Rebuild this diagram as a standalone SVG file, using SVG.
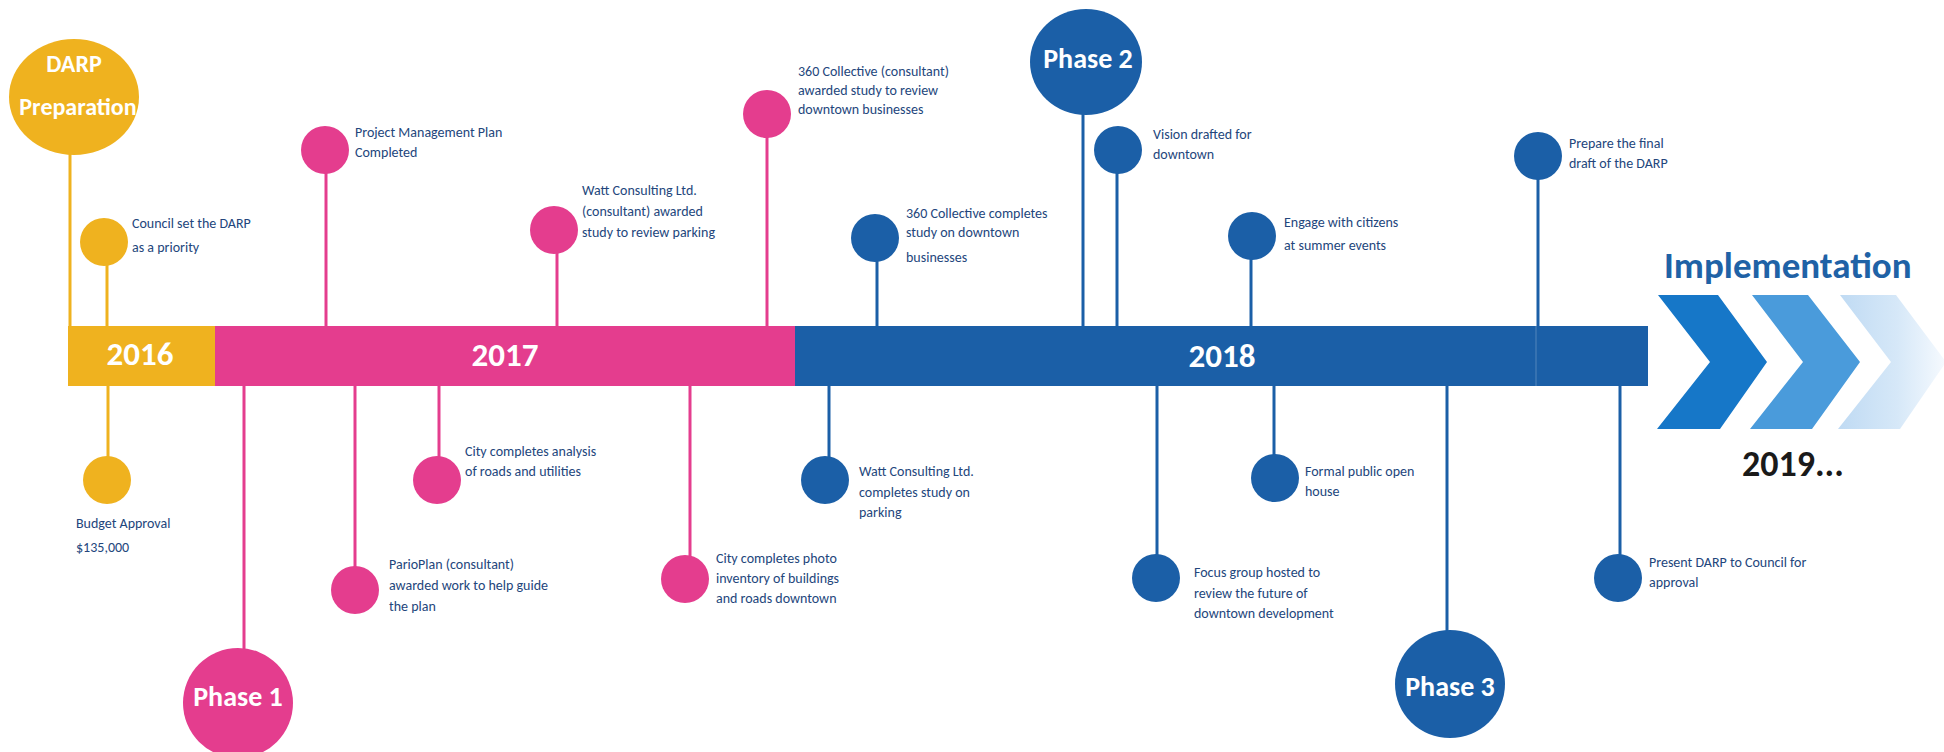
<svg xmlns="http://www.w3.org/2000/svg" width="1944" height="752" viewBox="0 0 1944 752">
  <defs>
    <style>
      .gold { fill: #EFB21F; }
      .pink { fill: #E43D8E; }
      .blue { fill: #1B5FA7; }
      .stem { fill: none; stroke-width: 3; }
      .s-gold { stroke: #EFB21F; }
      .s-pink { stroke: #E43D8E; }
      .s-blue { stroke: #1B5FA7; }
      .label { font-family: Carlito, Lato, "Noto Sans", sans-serif; font-size: 14px; fill: #23467C; }
      .year { font-family: Carlito, Lato, "Noto Sans", sans-serif; font-size: 33px; font-weight: bold; fill: #FFFFFF; text-anchor: middle; }
      .phase { font-family: Carlito, Lato, "Noto Sans", sans-serif; font-size: 28px; font-weight: bold; fill: #FFFFFF; text-anchor: middle; }
      .head { font-family: Carlito, Lato, "Noto Sans", sans-serif; font-weight: bold; }
    </style>
    <linearGradient id="fadeChevron" x1="0" y1="0" x2="1" y2="0">
      <stop offset="0" stop-color="#BFDAF3"/>
      <stop offset="0.55" stop-color="#D6E8F8"/>
      <stop offset="1" stop-color="#F6FAFE"/>
    </linearGradient>
  </defs>

  <rect width="1944" height="752" fill="#FFFFFF"/>

  <!-- stems joining each milestone to the year bar -->
  <g id="connectors">
    <line class="stem s-gold" x1="70" y1="150" x2="70" y2="327"/>
    <line class="stem s-gold" x1="107" y1="262" x2="107" y2="327"/>
    <line class="stem s-gold" x1="108" y1="385" x2="108" y2="458"/>
    <line class="stem s-pink" x1="244" y1="385" x2="244" y2="650"/>
    <line class="stem s-pink" x1="326" y1="170" x2="326" y2="327"/>
    <line class="stem s-pink" x1="355" y1="385" x2="355" y2="569"/>
    <line class="stem s-pink" x1="439" y1="385" x2="439" y2="459"/>
    <line class="stem s-pink" x1="557" y1="250" x2="557" y2="327"/>
    <line class="stem s-pink" x1="690" y1="385" x2="690" y2="558"/>
    <line class="stem s-pink" x1="767" y1="134" x2="767" y2="327"/>
    <line class="stem s-blue" x1="877" y1="258" x2="877" y2="327"/>
    <line class="stem s-blue" x1="829" y1="385" x2="829" y2="459"/>
    <line class="stem s-blue" x1="1083" y1="110" x2="1083" y2="327"/>
    <line class="stem s-blue" x1="1117" y1="170" x2="1117" y2="327"/>
    <line class="stem s-blue" x1="1157" y1="385" x2="1157" y2="557"/>
    <line class="stem s-blue" x1="1251" y1="256" x2="1251" y2="327"/>
    <line class="stem s-blue" x1="1274" y1="385" x2="1274" y2="457"/>
    <line class="stem s-blue" x1="1447" y1="385" x2="1447" y2="633"/>
    <line class="stem s-blue" x1="1538" y1="176" x2="1538" y2="327"/>
    <line class="stem s-blue" x1="1620" y1="385" x2="1620" y2="557"/>
  </g>

  <!-- year bar -->
  <g id="timeline">
    <rect class="gold" x="68" y="326" width="148" height="60"/>
    <rect class="pink" x="215" y="326" width="581" height="60"/>
    <rect class="blue" x="795" y="326" width="853" height="60"/>
    <line x1="1536" y1="326" x2="1536" y2="386" stroke="#FFFFFF" stroke-opacity="0.12" stroke-width="2"/>
    <text class="year" x="140" y="365">2016</text>
    <text class="year" x="505" y="366">2017</text>
    <text class="year" x="1222" y="367">2018</text>
  </g>

  <g id="darp-preparation">
    <ellipse class="gold" cx="74" cy="97" rx="65" ry="58"/>
    <text class="phase" x="74" y="72" style="font-size:24px">DARP</text>
    <text class="phase" x="78" y="115" style="font-size:24px">Preparation</text>
  </g>

  <g id="council-priority">
    <circle class="gold" cx="104" cy="242" r="24"/>
    <text class="label" x="132" y="228">Council set the DARP</text>
    <text class="label" x="132" y="252">as a priority</text>
  </g>

  <g id="budget-approval">
    <circle class="gold" cx="107" cy="480" r="24"/>
    <text class="label" x="76" y="528">Budget Approval</text>
    <text class="label" x="76" y="552">$135,000</text>
  </g>

  <g id="phase-1">
    <ellipse class="pink" cx="238" cy="703" rx="55" ry="55"/>
    <text class="phase" x="238" y="706">Phase 1</text>
  </g>

  <g id="project-management-plan">
    <circle class="pink" cx="325" cy="150" r="24"/>
    <text class="label" x="355" y="137">Project Management Plan</text>
    <text class="label" x="355" y="157">Completed</text>
  </g>

  <g id="pario-plan">
    <circle class="pink" cx="355" cy="590" r="24"/>
    <text class="label" x="389" y="569">ParioPlan (consultant)</text>
    <text class="label" x="389" y="590">awarded work to help guide</text>
    <text class="label" x="389" y="611">the plan</text>
  </g>

  <g id="roads-utilities">
    <circle class="pink" cx="437" cy="480" r="24"/>
    <text class="label" x="465" y="456">City completes analysis</text>
    <text class="label" x="465" y="476">of roads and utilities</text>
  </g>

  <g id="watt-awarded">
    <circle class="pink" cx="554" cy="230" r="24"/>
    <text class="label" x="582" y="195">Watt Consulting Ltd.</text>
    <text class="label" x="582" y="216">(consultant) awarded</text>
    <text class="label" x="582" y="237">study to review parking</text>
  </g>

  <g id="photo-inventory">
    <circle class="pink" cx="685" cy="579" r="24"/>
    <text class="label" x="716" y="563">City completes photo</text>
    <text class="label" x="716" y="583">inventory of buildings</text>
    <text class="label" x="716" y="603">and roads downtown</text>
  </g>

  <g id="collective-awarded">
    <circle class="pink" cx="767" cy="114" r="24"/>
    <text class="label" x="798" y="76">360 Collective (consultant)</text>
    <text class="label" x="798" y="95">awarded study to review</text>
    <text class="label" x="798" y="114">downtown businesses</text>
  </g>

  <g id="watt-completes">
    <circle class="blue" cx="825" cy="480" r="24"/>
    <text class="label" x="859" y="476">Watt Consulting Ltd.</text>
    <text class="label" x="859" y="497">completes study on</text>
    <text class="label" x="859" y="517">parking</text>
  </g>

  <g id="collective-completes">
    <circle class="blue" cx="875" cy="238" r="24"/>
    <text class="label" x="906" y="218">360 Collective completes</text>
    <text class="label" x="906" y="237">study on downtown</text>
    <text class="label" x="906" y="262">businesses</text>
  </g>

  <g id="phase-2">
    <ellipse class="blue" cx="1086" cy="62" rx="56" ry="53"/>
    <text class="phase" x="1088" y="68">Phase 2</text>
  </g>

  <g id="vision-drafted">
    <circle class="blue" cx="1118" cy="150" r="24"/>
    <text class="label" x="1153" y="139">Vision drafted for</text>
    <text class="label" x="1153" y="159">downtown</text>
  </g>

  <g id="focus-group">
    <circle class="blue" cx="1156" cy="578" r="24"/>
    <text class="label" x="1194" y="577">Focus group hosted to</text>
    <text class="label" x="1194" y="598">review the future of</text>
    <text class="label" x="1194" y="618">downtown development</text>
  </g>

  <g id="summer-events">
    <circle class="blue" cx="1252" cy="236" r="24"/>
    <text class="label" x="1284" y="227">Engage with citizens</text>
    <text class="label" x="1284" y="250">at summer events</text>
  </g>

  <g id="open-house">
    <circle class="blue" cx="1275" cy="478" r="24"/>
    <text class="label" x="1305" y="476">Formal public open</text>
    <text class="label" x="1305" y="496">house</text>
  </g>

  <g id="phase-3">
    <ellipse class="blue" cx="1450" cy="684" rx="55" ry="54"/>
    <text class="phase" x="1450" y="696">Phase 3</text>
  </g>

  <g id="final-draft">
    <circle class="blue" cx="1538" cy="156" r="24"/>
    <text class="label" x="1569" y="148">Prepare the final</text>
    <text class="label" x="1569" y="168">draft of the DARP</text>
  </g>

  <g id="council-approval">
    <circle class="blue" cx="1618" cy="578" r="24"/>
    <text class="label" x="1649" y="567">Present DARP to Council for</text>
    <text class="label" x="1649" y="587">approval</text>
  </g>

  <!-- implementation arrows -->
  <g id="implementation">
    <text class="head" x="1664" y="278" style="font-size:37px" fill="#1F62A6">Implementation</text>
    <polygon points="1658,295 1718,295 1767,362 1720,429 1657,429 1710,362" fill="#1677C8"/>
    <polygon points="1752,295 1808,295 1860,362 1812,429 1750,429 1803,362" fill="#4A9BDB"/>
    <polygon points="1840,295 1896,295 1946,362 1900,429 1838,429 1891,362" fill="url(#fadeChevron)"/>
    <text class="head" x="1742" y="476" style="font-size:36px" fill="#1A1A1A">2019...</text>
  </g>
</svg>
